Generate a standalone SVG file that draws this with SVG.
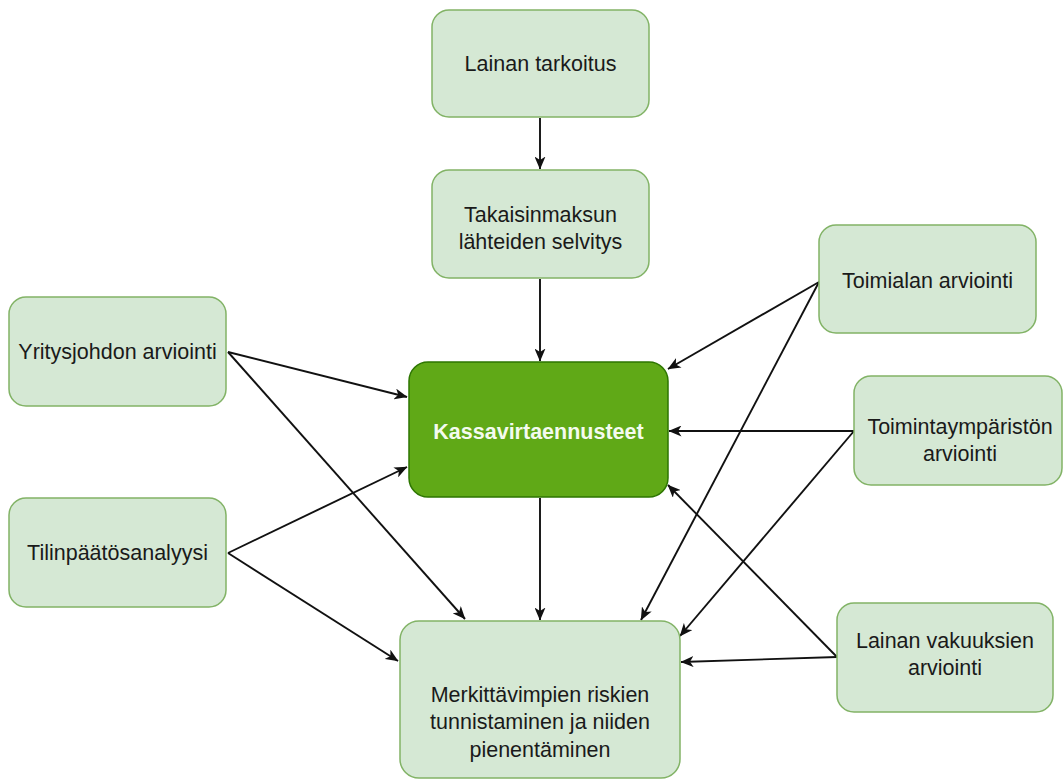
<svg xmlns="http://www.w3.org/2000/svg" width="1063" height="781" viewBox="0 0 1063 781">
<defs>
<marker id="arr" viewBox="0 0 13 11" refX="12.5" refY="5.5" markerWidth="13" markerHeight="11" markerUnits="userSpaceOnUse" orient="auto">
<path d="M0,0 L13,5.5 L0,11 L3.5,5.5 Z" fill="#111"/>
</marker>
</defs>
<style>
.n rect{fill:#d5e8d4;stroke:#82b366;stroke-width:1.5}
.n text{font-family:"Liberation Sans",Arial,sans-serif;font-size:21.5px;fill:#1a1a1a;text-anchor:middle}
#kassa rect{fill:#60a917;stroke:#2d7600;stroke-width:1.5}
#kassa text{font-weight:bold;fill:#f4fbef}
.c line{stroke:#111;stroke-width:1.9;fill:none;marker-end:url(#arr)}
</style>
<rect width="1063" height="781" fill="#fff"/>
<g class="c" id="connectors">
<line x1="540" y1="118" x2="540" y2="169"/>
<line x1="540" y1="279" x2="540" y2="361"/>
<line x1="228" y1="352" x2="407" y2="397"/>
<line x1="228" y1="352" x2="465" y2="619"/>
<line x1="228" y1="553" x2="407" y2="467"/>
<line x1="228" y1="553" x2="398" y2="661"/>
<line x1="819" y1="282" x2="668" y2="369"/>
<line x1="819" y1="282" x2="641" y2="620"/>
<line x1="854" y1="431" x2="669" y2="431"/>
<line x1="854" y1="431" x2="680" y2="636"/>
<line x1="837" y1="657" x2="668" y2="485"/>
<line x1="837" y1="657" x2="681" y2="662"/>
<line x1="540" y1="498" x2="540" y2="620"/>
</g>
<g class="n" id="lainan-tarkoitus"><rect x="432" y="10" width="217" height="107" rx="17"/><text x="540.5" y="71">Lainan tarkoitus</text></g>
<g class="n" id="takaisinmaksu"><rect x="432" y="170" width="217" height="108" rx="17"/><text x="540.5" y="222">Takaisinmaksun</text><text x="540.5" y="249">lähteiden selvitys</text></g>
<g class="n" id="yritysjohto"><rect x="9" y="297" width="217" height="109" rx="17"/><text x="117.5" y="359">Yritysjohdon arviointi</text></g>
<g class="n" id="tilinpaatos"><rect x="9" y="498" width="217" height="109" rx="17"/><text x="117.5" y="560">Tilinpäätösanalyysi</text></g>
<g class="n" id="kassa"><rect x="409" y="362" width="259" height="135" rx="19"/><text x="538.5" y="439">Kassavirtaennusteet</text></g>
<g class="n" id="toimiala"><rect x="819" y="225" width="217" height="108" rx="17"/><text x="927.5" y="288">Toimialan arviointi</text></g>
<g class="n" id="toimintaymparisto"><rect x="854" y="376" width="208" height="109" rx="17"/><text x="960" y="434">Toimintaympäristön</text><text x="960" y="461">arviointi</text></g>
<g class="n" id="vakuudet"><rect x="837" y="603" width="216" height="109" rx="17"/><text x="945" y="648">Lainan vakuuksien</text><text x="945" y="675">arviointi</text></g>
<g class="n" id="riskit"><rect x="400" y="621" width="280" height="157" rx="19"/><text x="540" y="702">Merkittävimpien riskien</text><text x="540" y="729">tunnistaminen ja niiden</text><text x="540" y="757">pienentäminen</text></g>
</svg>
